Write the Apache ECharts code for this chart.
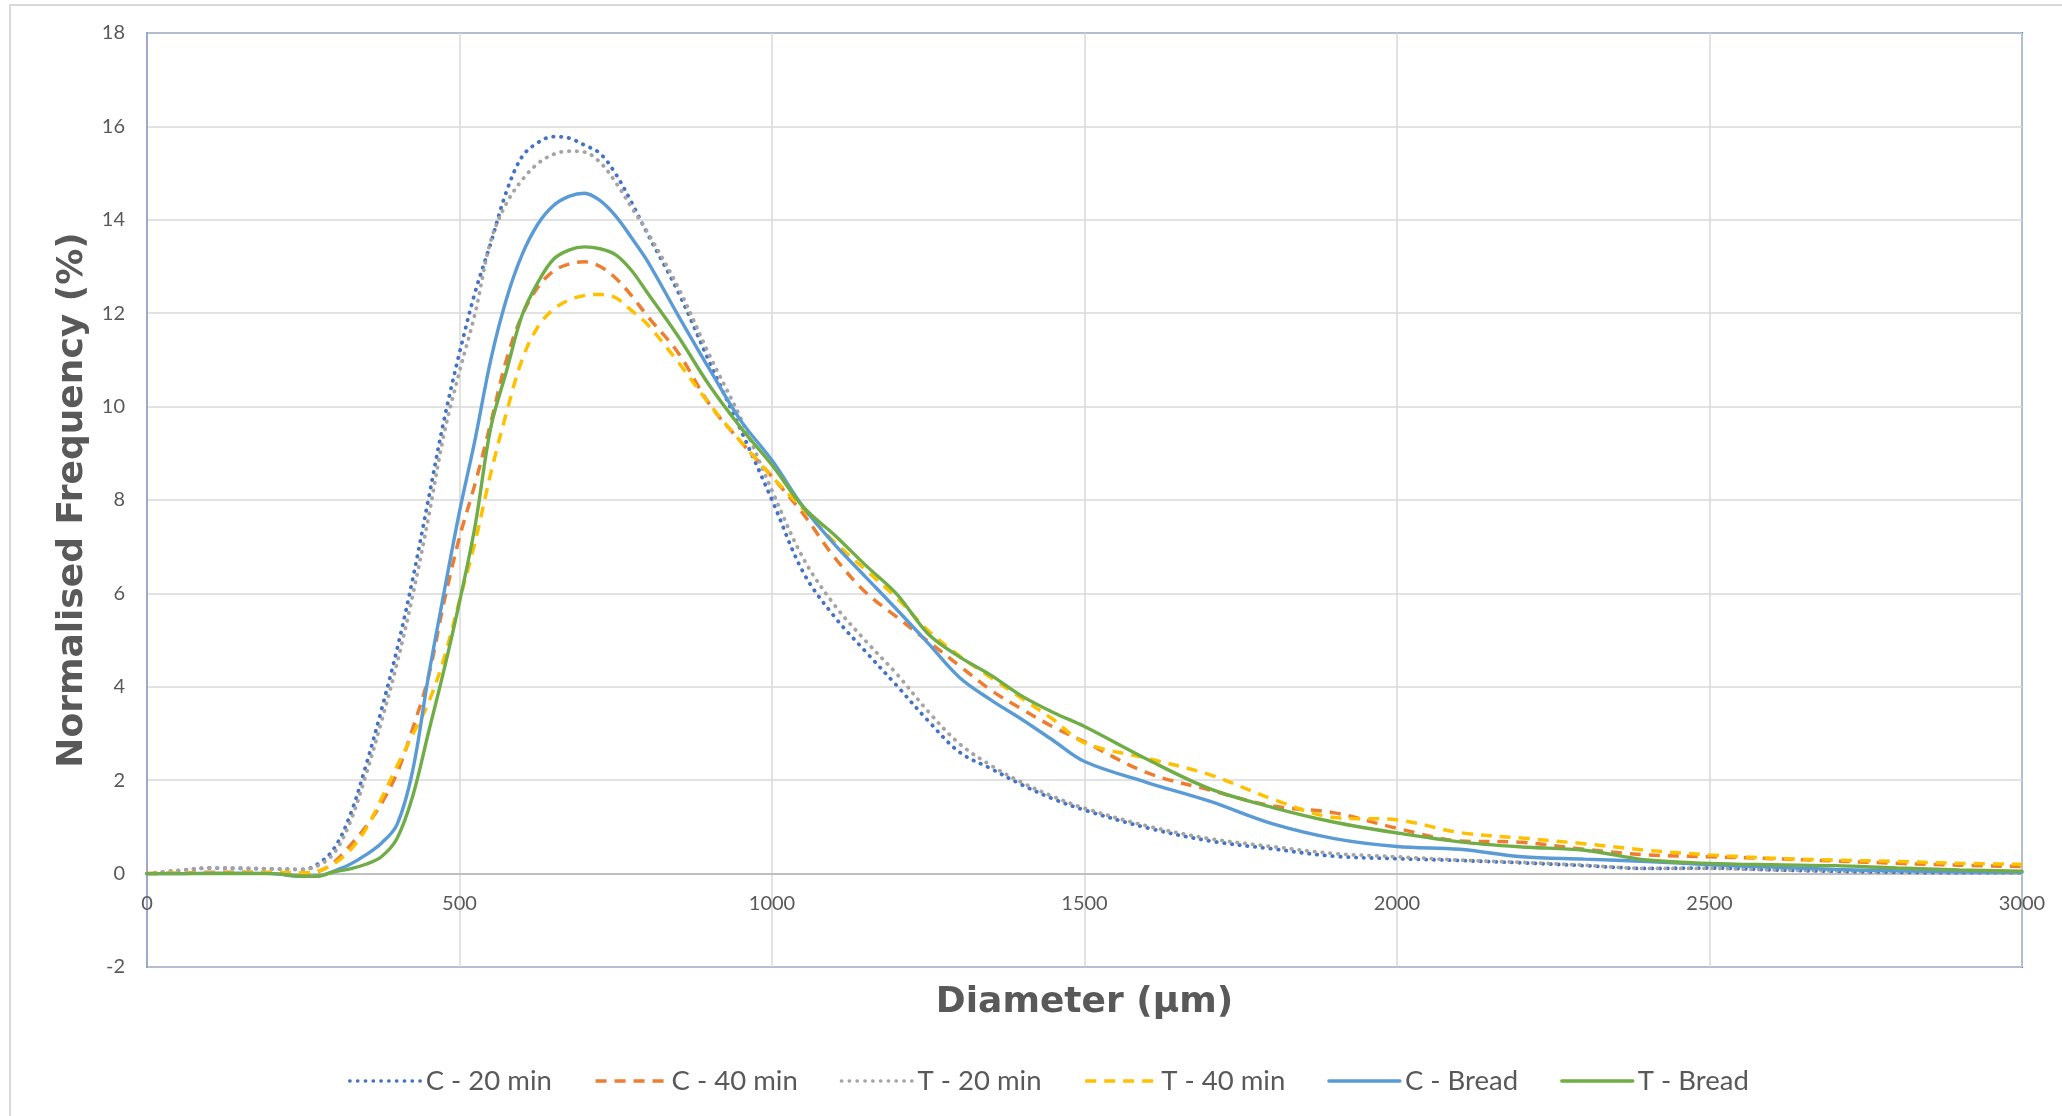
<!DOCTYPE html>
<html>
<head>
<meta charset="utf-8">
<title>Particle size distribution</title>
<script src="https://cdn.jsdelivr.net/npm/echarts@6/dist/echarts.min.js"></script>
<style>
  html, body { margin: 0; padding: 0; background: #ffffff; }
  #chart { width: 2062px; height: 1116px; }
</style>
</head>
<body>
<div id="chart"></div>
<script>
// Diameter classes (µm)
const diameter = [0, 50, 100, 150, 200, 250, 275, 300, 325, 350, 375, 400, 425, 450, 475, 500,
  525, 550, 575, 600, 625, 650, 675, 700, 725, 750, 775, 800, 850, 900, 950, 1000, 1050, 1100,
  1150, 1200, 1250, 1300, 1350, 1400, 1450, 1500, 1600, 1700, 1800, 1900, 2000, 2100, 2200,
  2300, 2400, 2500, 2600, 2700, 2800, 2900, 3000];

// Normalised frequency (%) per sample
const c20 = [0, 0.06, 0.12, 0.11, 0.10, 0.09, 0.22, 0.55, 1.25, 2.3, 3.5, 4.8, 6.3, 8.0, 9.7, 11.15,
  12.45, 13.5, 14.6, 15.35, 15.65, 15.78, 15.75, 15.6, 15.42, 14.98, 14.38, 13.72, 12.45, 10.95, 9.5,
  8.0, 6.45, 5.5, 4.75, 4.02, 3.27, 2.6, 2.25, 1.9, 1.6, 1.36, 0.98, 0.7, 0.53, 0.37, 0.32, 0.28,
  0.23, 0.17, 0.11, 0.12, 0.08, 0.05, 0.03, 0.02, 0.02];

const c40 = [0, 0.01, 0.03, 0.03, 0.02, 0.01, 0.05, 0.25, 0.6, 1.0, 1.5, 2.15, 3.1, 4.2, 5.8, 7.2,
  8.35, 9.65, 11.0, 11.95, 12.55, 12.9, 13.05, 13.1, 13.0, 12.75, 12.38, 11.95, 11.15, 10.05, 9.25,
  8.5, 7.7, 6.77, 6.02, 5.49, 4.97, 4.45, 3.93, 3.52, 3.14, 2.82, 2.16, 1.79, 1.45, 1.3, 0.97, 0.7,
  0.67, 0.52, 0.4, 0.36, 0.32, 0.27, 0.22, 0.18, 0.15];

const t20 = [0, 0.07, 0.12, 0.12, 0.10, 0.09, 0.18, 0.45, 1.1, 2.1, 3.25, 4.5, 5.95, 7.6, 9.4, 10.75,
  12.0, 13.55, 14.35, 14.85, 15.2, 15.4, 15.47, 15.45, 15.23, 14.8, 14.27, 13.75, 12.55, 11.1, 9.75,
  8.2, 6.75, 5.75, 4.98, 4.27, 3.47, 2.78, 2.32, 1.95, 1.65, 1.4, 1.02, 0.75, 0.58, 0.43, 0.36, 0.29,
  0.24, 0.18, 0.11, 0.11, 0.08, 0.06, 0.05, 0.04, 0.04];

const t40 = [0, 0.01, 0.02, 0.03, 0.03, 0.02, 0.06, 0.22, 0.5, 0.95, 1.6, 2.3, 2.97, 3.65, 4.6, 5.85,
  7.1, 8.57, 9.86, 11.0, 11.7, 12.08, 12.28, 12.38, 12.4, 12.33, 12.06, 11.77, 10.95, 10.05, 9.25,
  8.5, 7.8, 7.1, 6.5, 5.9, 5.2, 4.66, 4.2, 3.75, 3.3, 2.8, 2.47, 2.12, 1.6, 1.2, 1.15, 0.88, 0.76,
  0.64, 0.5, 0.4, 0.33, 0.29, 0.26, 0.22, 0.2];

const cBread = [0, 0, 0.01, 0.01, 0, -0.06, -0.05, 0.06, 0.2, 0.4, 0.65, 1.05, 2.2, 4.2, 6.0, 7.75,
  9.3, 11.0, 12.3, 13.25, 13.9, 14.3, 14.5, 14.57, 14.41, 14.08, 13.62, 13.13, 11.95, 10.8, 9.7,
  8.85, 7.85, 7.05, 6.35, 5.65, 4.93, 4.2, 3.72, 3.3, 2.85, 2.4, 1.95, 1.55, 1.07, 0.75, 0.58, 0.52,
  0.36, 0.31, 0.26, 0.19, 0.14, 0.09, 0.06, 0.04, 0.03];

const tBread = [0, 0, 0, 0, 0, -0.06, -0.05, 0.04, 0.1, 0.2, 0.36, 0.75, 1.65, 3.0, 4.35, 5.82,
  7.45, 9.55, 10.75, 11.95, 12.65, 13.15, 13.35, 13.42, 13.38, 13.25, 12.92, 12.45, 11.5, 10.45,
  9.55, 8.75, 7.85, 7.25, 6.6, 5.98, 5.13, 4.64, 4.25, 3.8, 3.45, 3.15, 2.45, 1.82, 1.42, 1.1, 0.87,
  0.68, 0.57, 0.5, 0.29, 0.22, 0.19, 0.17, 0.12, 0.08, 0.05];

const seriesNames = ['C - 20 min', 'C - 40 min', 'T - 20 min', 'T - 40 min', 'C - Bread', 'T - Bread'];
const seriesValues = [c20, c40, t20, t40, cBread, tBread];
const seriesColors = ['#4472C4', '#ED7D31', '#A5A5A5', '#FFC000', '#5B9BD5', '#70AD47'];
const seriesDash = ['dot', 'dash', 'dot', 'dash', 'solid', 'solid'];

const xTicks = { min: 0, max: 3000, interval: 500 };
const yTicks = { min: -2, max: 18, interval: 2 };

// Plot box in pixels
const plot = { left: 147, right: 40, top: 33, bottom: 149 };
const plotHeight = 1116 - plot.top - plot.bottom;
// The diameter axis sits on the zero line: lift it from the bottom edge of the plot box
const zeroLift = plotHeight * (0 - yTicks.min) / (yTicks.max - yTicks.min);

function lineStyleFor(kind, color) {
  if (kind === 'dot') return { color, width: 3.8, type: [0.4, 7.4], cap: 'round' };
  if (kind === 'dash') return { color, width: 3.5, type: [11, 8], cap: 'butt' };
  return { color, width: 3.4, type: 'solid', cap: 'round' };
}

const series = seriesNames.map((name, i) => ({
  name,
  type: 'line',
  smooth: 0.35,
  symbol: 'none',
  showSymbol: false,
  color: seriesColors[i],
  lineStyle: lineStyleFor(seriesDash[i], seriesColors[i]),
  data: diameter.map((d, k) => [d, seriesValues[i][k]])
}));

const chart = echarts.init(document.getElementById('chart'), null, { renderer: 'canvas' });
chart.setOption({
  animation: false,
  backgroundColor: '#ffffff',
  graphic: [{
    type: 'rect',
    shape: { x: 10, y: 5, width: 2100, height: 1200 },
    style: { fill: 'none', stroke: '#d9d9d9', lineWidth: 2 },
    silent: true,
    z: -1
  }],
  grid: {
    left: plot.left, right: plot.right, top: plot.top, bottom: plot.bottom,
    show: true,
    borderColor: '#4472C4',
    borderWidth: 2,
    backgroundColor: 'transparent'
  },
  legend: {
    data: seriesNames,
    left: 343,
    top: 1062,
    itemWidth: 71,
    itemHeight: 24,
    itemGap: 42,
    itemStyle: { opacity: 0 },
    lineStyle: { width: 3.4 },
    textStyle: { fontFamily: 'Lato', fontSize: 27.5, color: '#595959' }
  },
  xAxis: {
    type: 'value',
    position: 'bottom',
    offset: -zeroLift,
    min: xTicks.min, max: xTicks.max, interval: xTicks.interval,
    name: 'Diameter (μm)',
    nameLocation: 'middle',
    nameGap: 111,
    nameMoveOverlap: false,
    nameTextStyle: { fontFamily: 'DejaVu Sans', fontWeight: 'bold', fontSize: 36, color: '#595959' },
    axisLine: { onZero: false, lineStyle: { color: '#bfbfbf', width: 2 } },
    axisTick: { show: false },
    axisLabel: { fontFamily: 'Lato', fontSize: 20, color: '#595959', margin: 20, formatter: v => String(v) },
    splitLine: { show: true, lineStyle: { color: '#d9d9d9', width: 1.5 } }
  },
  yAxis: {
    type: 'value',
    min: yTicks.min, max: yTicks.max, interval: yTicks.interval,
    name: 'Normalised Frequency (%)',
    nameLocation: 'middle',
    nameGap: 56,
    nameTextStyle: { fontFamily: 'DejaVu Sans', fontWeight: 'bold', fontSize: 36, color: '#595959' },
    axisLine: { show: true, onZero: false, lineStyle: { color: '#9ea9c6', width: 2 } },
    axisTick: { show: false },
    axisLabel: { fontFamily: 'Lato', fontSize: 20, color: '#595959', margin: 22, formatter: v => String(v) },
    splitLine: { show: true, lineStyle: { color: '#d9d9d9', width: 1.5 } }
  },
  series
});
</script>
</body>
</html>
